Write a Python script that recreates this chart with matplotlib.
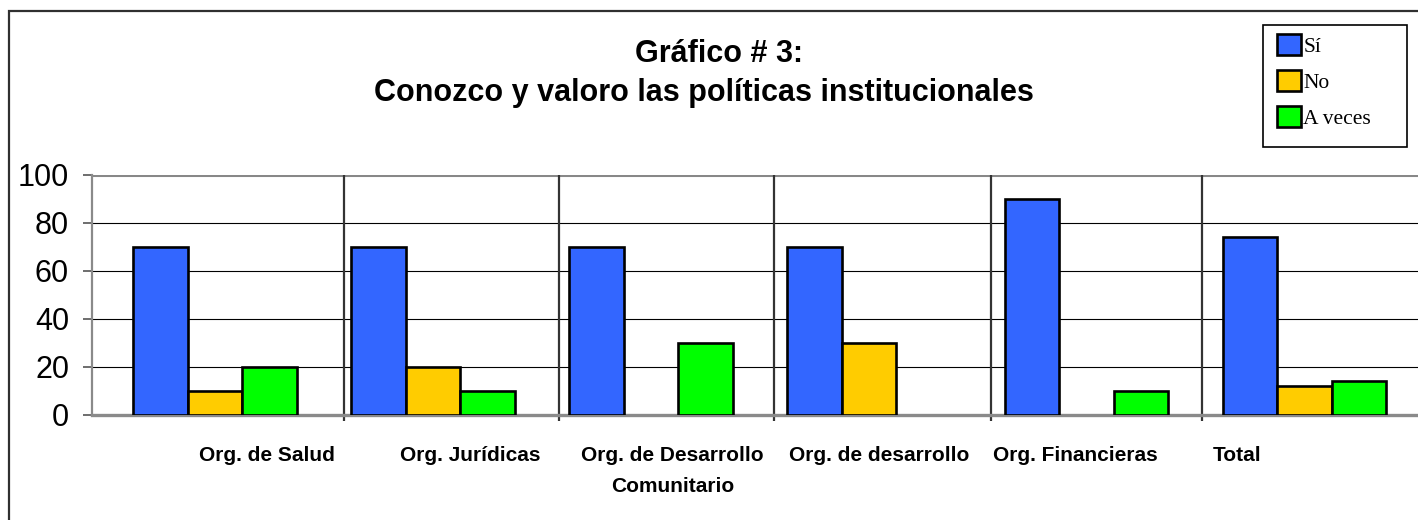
import numpy as np
import matplotlib
matplotlib.use("Agg")
import matplotlib.pyplot as plt
from matplotlib.patches import Rectangle

# data
categories = ["Org. de Salud", "Org. Jurídicas", "Org. de Desarrollo\nComunitario",
              "Org. de desarrollo", "Org. Financieras", "Total"]
si = [70, 70, 70, 70, 90, 74]
no = [10, 20, 0, 30, 0, 12]
a_veces = [20, 10, 30, 0, 10, 14]
series_names = ["Sí", "No", "A veces"]
y_ticks = [0, 20, 40, 60, 80, 100]

# the category labels in the source sit off-centre, these are their offsets
label_shift = [0.24, 0.17, 0.10, 0.05, -0.05, -0.31]
# separator lines drift a little from the true category boundaries
sep_shift = [0.59, 0.58, 0.565, 0.56, 0.53]

colors = ["#3366FF", "#FFCC00", "#00FF00"]

plt.rcParams['font.family'] = ['Liberation Sans', 'DejaVu Sans']

W, H = 1418, 520
fig = plt.figure(figsize=(W / 100, H / 100), dpi=100)
fig.patch.set_facecolor("white")

# outer chart frame
fig.add_artist(Rectangle((9 / W, -0.02), 1.1, 1 - 11 / H + 0.02, transform=fig.transFigure,
                         fill=False, edgecolor="#303030", linewidth=1.6, clip_on=False))

ax = fig.add_axes([92 / W, 105 / H, 1 - 92 / W, 240 / H])

x = np.arange(len(categories))
bw = 0.25
handles = []
for k, (vals, name) in enumerate(zip([si, no, a_veces], series_names)):
    vals = np.array(vals, dtype=float)
    keep = vals > 0  # zero bars are not drawn in the source
    b = ax.bar(x[keep] + (k - 1) * bw, vals[keep], width=bw, color=colors[k],
               edgecolor="black", linewidth=1.9, label=name, zorder=3)
    handles.append(b)

ax.set_xlim(-0.564, 5.52)
ax.set_ylim(0, 100)

# gridlines
for yv in y_ticks[1:-1]:
    ax.axhline(yv, color="black", linewidth=0.8, zorder=1)
ax.axhline(100, color="#888888", linewidth=2.2, zorder=1)

# category separators
ax.vlines(x[:-1] + np.array(sep_shift), -2.5, 100, colors="#333333", linewidth=1.6,
          zorder=2, clip_on=False)

for s in ["top", "right"]:
    ax.spines[s].set_visible(False)
ax.spines["bottom"].set_color("#8a8a8a")
ax.spines["bottom"].set_linewidth(2.4)
ax.spines["left"].set_color("#8a8a8a")
ax.spines["left"].set_linewidth(1.6)

ax.set_yticks(y_ticks)
ax.tick_params(axis="y", labelsize=22, length=6.5, width=1.2, color="#555555", pad=10)
ax.set_xticks(x + np.array(label_shift))
ax.set_xticklabels(categories, fontsize=15, fontweight="bold", va="top", linespacing=1.85)
ax.tick_params(axis="x", length=0, pad=22)

fig.text(719 / W, 1 - 62 / H, "Gráfico # 3:", ha="center", va="baseline",
         fontsize=22, fontweight="bold")
fig.text(704 / W, 1 - 101 / H, "Conozco y valoro las políticas institucionales",
         ha="center", va="baseline", fontsize=22, fontweight="bold")

# legend box
fig.add_artist(Rectangle((1263 / W, 1 - 147 / H), 144 / W, 122 / H, transform=fig.transFigure,
                         facecolor="white", edgecolor="black", linewidth=1.2, zorder=4))
leg = fig.legend(handles=handles, labels=series_names, loc="upper left",
                 bbox_to_anchor=(1277 / W, 1 - 34 / H), frameon=False,
                 prop={"family": "Liberation Serif", "size": 15.5},
                 handlelength=1.12, handleheight=1.12, handletextpad=0.1,
                 labelspacing=0.62, borderpad=0, borderaxespad=0)
leg.set_zorder(5)

fig.savefig("out.png", dpi=100)
